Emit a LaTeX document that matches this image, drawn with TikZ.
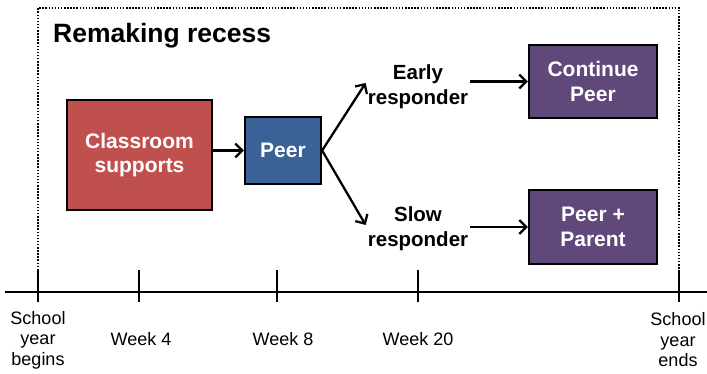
\documentclass[tikz,border=0pt]{standalone}
\usepackage{fontspec}
\setmainfont{Liberation Sans}
\usetikzlibrary{arrows.meta,calc}
\definecolor{boxred}{HTML}{C0504D}
\definecolor{boxblue}{HTML}{3B6296}
\definecolor{boxpurple}{HTML}{60497A}
\begin{document}
\begin{tikzpicture}[x=1pt,y=1pt,
  phase/.style={draw=black,line width=2.2pt,text=white,align=center,
    font=\fontsize{21}{24.5}\selectfont\bfseries,inner sep=0pt},
  resp/.style={align=center,font=\fontsize{20.5}{25}\selectfont\bfseries,inner sep=2pt},
  flow/.style={line width=2.3pt,-{Straight Barb[length=7pt,width=14pt]}},
  tick/.style={line width=2pt},
  when/.style={align=center,font=\fontsize{18}{20.5}\selectfont,inner sep=0pt},
  frame/.style={line width=2.2pt,dash pattern=on 1.5pt off 1.6pt}]
\useasboundingbox (0,0) rectangle (707,374);

% outer dotted frame of the recess programme
\coordinate (fl) at (38,82);
\coordinate (fr) at (679,82);
\draw[frame] (fl) |- (fr |- 0,366) -- (fr);
\node[anchor=base west,inner sep=0pt,font=\fontsize{26.5}{30}\selectfont\bfseries]
  (title) at (53,331) {Remaking recess};

% intervention boxes
\node[phase,fill=boxred,minimum width=145pt,minimum height=110pt] (cls) at (139.5,219) {Classroom\\supports};
\node[phase,fill=boxblue,minimum width=76pt,minimum height=67pt] (peer) at (283,223.5) {Peer};
\node[phase,fill=boxpurple,minimum width=128pt,minimum height=73pt] (cont) at (593,292.5) {Continue\\Peer};
\node[phase,fill=boxpurple,minimum width=128pt,minimum height=74pt] (pp) at (593,147) {Peer +\\Parent};

% responder groups
\node[resp] (early) at (418,287) {Early\\responder};
\node[resp] (slow) at (418,145) {Slow\\responder};

% connectors
\draw[flow] (cls.east |- peer) -- (peer.west);
\draw[flow] (peer.east) -- ($(early.west)+(0,4)$);
\draw[flow] (peer.east) -- ($(slow.west)+(0,4)$);
\draw[flow] (early.east |- cont) -- (cont.west);
\draw[flow] (slow.east |- pp) -- (pp.west);

% time axis
\coordinate (a0) at (5,82);
\coordinate (a1) at (707,82);
\draw[line width=2pt] (a0) -- (a1);
\foreach \n/\x in {t0/38,t4/139,t8/277,t20/418,tend/679}{
  \coordinate (\n) at (\x,82);
  \draw[tick] ($(\n)+(0,22)$) -- ($(\n)+(0,-10)$);
}
\node[when] (l0) at (38,34) {School\\year\\begins};
\node[when] (l4) at (141,34.5) {Week 4};
\node[when] (l8) at (283,34.5) {Week 8};
\node[when] (l20) at (418,34.5) {Week 20};
\node[when] (lend) at (678,34) {School\\year\\ends};
\end{tikzpicture}
\end{document}
